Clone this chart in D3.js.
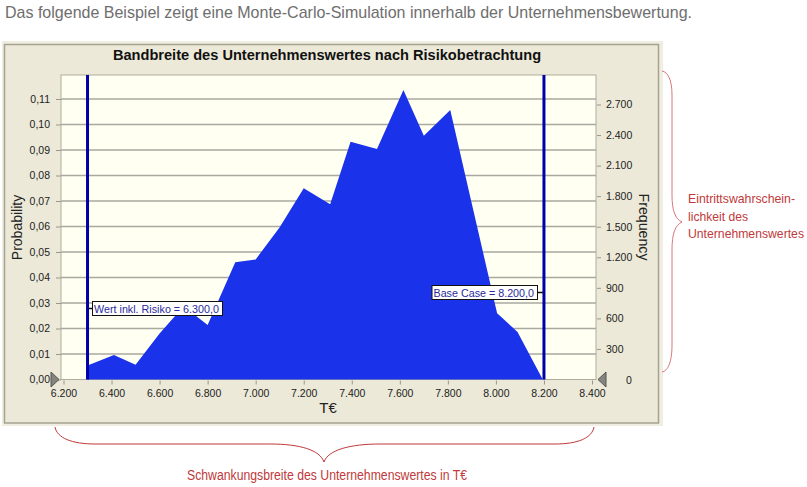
<!DOCTYPE html>
<html>
<head>
<meta charset="utf-8">
<script src="https://d3js.org/d3.v7.min.js"></script>
<style>
  body { margin: 0; background: #fff; }
  svg { display: block; }
  text { font-family: "Liberation Sans", Arial, sans-serif; }
</style>
</head>
<body>
<script>
// values
var wertX = [6300, 6410, 6500, 6600, 6700, 6800, 6915, 7000, 7100, 7200, 7310, 7395, 7505, 7615, 7700, 7810, 7900, 8005, 8090, 8195];
var probability = [0.0055, 0.0096, 0.0058, 0.018, 0.0287, 0.0214, 0.046, 0.0471, 0.0597, 0.075, 0.0687, 0.0932, 0.0904, 0.1135, 0.0956, 0.1057, 0.0688, 0.026, 0.0186, 0];
var xTicks = [6200, 6400, 6600, 6800, 7000, 7200, 7400, 7600, 7800, 8000, 8200, 8400];
var probTicks = [0, 0.01, 0.02, 0.03, 0.04, 0.05, 0.06, 0.07, 0.08, 0.09, 0.10, 0.11];
var freqTicks = [0, 300, 600, 900, 1200, 1500, 1800, 2100, 2400, 2700];
var basisWert = 6300;
var basisCase = 8200;

var de = d3.formatLocale({ decimal: ",", thousands: ".", grouping: [3], currency: ["", "€"] });
var fmtX = de.format(",d");
var fmtProb = de.format(".2f");

var svg = d3.select("body").append("svg").attr("width", 807).attr("height", 487);

var plot = { left: 61, right: 596, top: 75, bottom: 379.5 };

var x = d3.scaleLinear().domain([6200, 8400]).range([63.5, 592]);
var yProb = d3.scaleLinear().domain([0, 0.11]).range([plot.bottom, 99]);
var yFreq = d3.scaleLinear().domain([0, 2700]).range([plot.bottom, 104.5]);

// headline
svg.append("text").attr("x", 5).attr("y", 18)
  .attr("font-size", 17).attr("fill", "#6e6e6e").attr("textLength", 687).attr("lengthAdjust", "spacingAndGlyphs")
  .text("Das folgende Beispiel zeigt eine Monte-Carlo-Simulation innerhalb der Unternehmensbewertung.");

// panel
svg.append("rect").attr("x", 2).attr("y", 41).attr("width", 661).attr("height", 385).attr("fill", "#f0eee0");
svg.append("rect").attr("x", 4.5).attr("y", 44.5).attr("width", 654).attr("height", 378.5)
  .attr("fill", "#ece9d8").attr("stroke", "#a5a291").attr("stroke-width", 1.5);

svg.append("rect").attr("x", plot.left).attr("y", plot.top)
  .attr("width", plot.right - plot.left).attr("height", plot.bottom - plot.top)
  .attr("fill", "#fffff2").attr("stroke", "#b0ad9c").attr("stroke-width", 1);

svg.append("text").attr("x", 327).attr("y", 60).attr("text-anchor", "middle")
  .attr("font-size", 14.6).attr("font-weight", "bold").attr("fill", "#111")
  .text("Bandbreite des Unternehmenswertes nach Risikobetrachtung");

// gridlines
svg.selectAll("line.grid").data(probTicks.slice(1)).enter().append("line")
  .attr("class", "grid")
  .attr("x1", plot.left).attr("x2", plot.right)
  .attr("y1", function(d) { return yProb(d); })
  .attr("y2", function(d) { return yProb(d); })
  .attr("stroke", "#a9a9a0").attr("stroke-width", 1.5);

// distribution
var area = d3.area()
  .x(function(d, i) { return x(wertX[i]); })
  .y0(yProb(0))
  .y1(function(d) { return yProb(d); });

svg.append("path").datum(probability).attr("d", area).attr("fill", "#1a32ea");

// axes
function styleAxis(g) {
  g.select(".domain").remove();
  g.selectAll("line").attr("stroke", "#9a978a");
  g.selectAll("text").attr("font-size", 10.5).attr("fill", "#222")
    .style("font-family", "'Liberation Sans', Arial, sans-serif");
}

svg.append("g").attr("transform", "translate(0," + (plot.bottom + 1) + ")")
  .call(d3.axisBottom(x).tickValues(xTicks).tickFormat(fmtX).tickSize(4).tickPadding(5))
  .call(styleAxis);

svg.append("g").attr("transform", "translate(" + plot.left + ",0)")
  .call(d3.axisLeft(yProb).tickValues(probTicks).tickFormat(fmtProb).tickSize(5).tickPadding(6))
  .call(styleAxis);

svg.append("g").attr("transform", "translate(" + (plot.right + 1) + ",0)")
  .call(d3.axisRight(yFreq).tickValues(freqTicks.slice(1)).tickFormat(fmtX).tickSize(4).tickPadding(5))
  .call(styleAxis);

svg.append("text").attr("x", 629).attr("y", yFreq(0) + 4).attr("text-anchor", "middle")
  .attr("font-size", 10.5).attr("fill", "#222").text("0");

// axis titles
svg.append("text").attr("x", 328).attr("y", 412.5).attr("text-anchor", "middle")
  .attr("font-size", 15).attr("fill", "#222").text("T€");
svg.append("text").attr("transform", "translate(22,227.5) rotate(-90)").attr("text-anchor", "middle")
  .attr("font-size", 14).attr("fill", "#222").text("Probability");
svg.append("text").attr("transform", "translate(639,227) rotate(90)").attr("text-anchor", "middle")
  .attr("font-size", 14.2).attr("fill", "#222").text("Frequency");

// limit lines
[basisWert, basisCase].forEach(function(v) {
  svg.append("line").attr("x1", x(v)).attr("x2", x(v)).attr("y1", plot.top).attr("y2", plot.bottom)
    .attr("stroke", "#0000a8").attr("stroke-width", 3);
});

// limit labels
function limitLabel(text, left, w, top, tickFrom, tickTo) {
  svg.append("line").attr("x1", tickFrom).attr("x2", tickTo).attr("y1", top + 7).attr("y2", top + 7)
    .attr("stroke", "#111").attr("stroke-width", 1.5);
  svg.append("rect").attr("x", left).attr("y", top).attr("width", w).attr("height", 14)
    .attr("fill", "#fff").attr("stroke", "#111").attr("stroke-width", 1);
  svg.append("text").attr("x", left + 1.5).attr("y", top + 11)
    .attr("font-size", 11).attr("fill", "#2a2a9c").attr("textLength", w - 5).attr("lengthAdjust", "spacingAndGlyphs")
    .text(text);
}
limitLabel("Wert inkl. Risiko = " + de.format(",.1f")(basisWert), 92.5, 130, 301.5, x(basisWert) + 1, 93);
limitLabel("Base Case = " + de.format(",.1f")(basisCase), 432, 105.5, 285.5, 537, x(basisCase) - 1);

// range sliders
var triangle = d3.line();
svg.append("path").attr("d", triangle([[51, 372], [51, 387], [59, 379.5]]) + "Z")
  .attr("fill", "#85857f").attr("stroke", "#55554f");
svg.append("path").attr("d", triangle([[606, 372], [606, 387], [598, 379.5]]) + "Z")
  .attr("fill", "#85857f").attr("stroke", "#55554f");

// annotations
var red = "#c0393b";
svg.append("path")
  .attr("d", "M55,427 C57,438 72,444 95,444 L270,444 C300,444 320,450 324,462 C328,450 350,444 380,444 L555,444 C578,444 592,438 594,427")
  .attr("fill", "none").attr("stroke", red).attr("stroke-width", 1);
svg.append("path")
  .attr("d", "M662,71 C668,72 672,80 672,95 L672,195 C672,210 675,219 682,222 C675,225 672,234 672,250 L672,345 C672,362 668,371 662,372")
  .attr("fill", "none").attr("stroke", "#d9777a").attr("stroke-width", 1);

svg.append("text").attr("x", 187).attr("y", 480)
  .attr("font-size", 14).attr("fill", red).attr("textLength", 280).attr("lengthAdjust", "spacingAndGlyphs")
  .text("Schwankungsbreite des Unternehmenswertes in T€");

var seitenText = ["Eintrittswahrschein-", "lichkeit des", "Unternehmenswertes"];
var seitenBreite = [107, 60, 116];
svg.selectAll("text.seite").data(seitenText).enter().append("text")
  .attr("class", "seite")
  .attr("x", 688)
  .attr("y", function(d, i) { return 203 + i * 17.5; })
  .attr("font-size", 12.2).attr("fill", red)
  .attr("textLength", function(d, i) { return seitenBreite[i]; })
  .attr("lengthAdjust", "spacingAndGlyphs")
  .text(function(d) { return d; });
</script>
</body>
</html>
